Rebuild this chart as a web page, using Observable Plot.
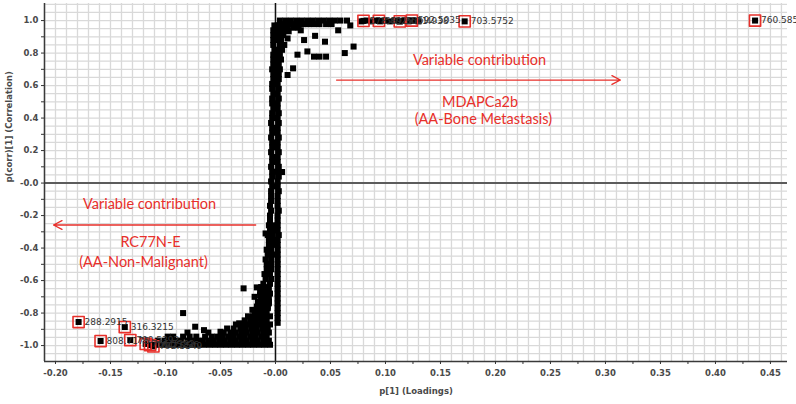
<!DOCTYPE html>
<html><head><meta charset="utf-8">
<script src="https://cdn.jsdelivr.net/npm/d3@7"></script>
<script src="https://cdn.jsdelivr.net/npm/@observablehq/plot@0.6"></script>
<style>
html,body{margin:0;padding:0;background:#fff;overflow:hidden}
</style></head><body><div id="chart"></div>
<script>
// ---- axis settings ----
const xDomain = [-0.21, 0.4655];
const yDomain = [-1.098, 1.105];
const xTicks = [-0.20,-0.15,-0.10,-0.05,0.00,0.05,0.10,0.15,0.20,0.25,0.30,0.35,0.40,0.45];
const xTickLabels = ["-0.20","-0.15","-0.10","-0.05","-0.00","0.05","0.10","0.15","0.20","0.25","0.30","0.35","0.40","0.45"];
const yTicks = [1.0,0.8,0.6,0.4,0.2,0.0,-0.2,-0.4,-0.6,-0.8,-1.0];
const yTickLabels = ["1.0","0.8","0.6","0.4","0.2","-0.0","-0.2","-0.4","-0.6","-0.8","-1.0"];

// ---- data: vertical stem near p[1] = 0 ----
const stemY = [0.97,0.94,0.91,0.88,0.85,0.82,0.79,0.76,0.73,0.70,
  0.67,0.64,0.61,0.58,0.55,0.52,0.49,0.46,0.43,0.40,
  0.37,0.34,0.31,0.28,0.25,0.22,0.19,0.16,0.13,0.10,
  0.07,0.04,0.01,-0.02,-0.05,-0.08,-0.11,-0.14,-0.17,-0.20,
  -0.23,-0.26,-0.29,-0.32,-0.35,-0.38,-0.41,-0.44,-0.47,-0.50,
  -0.53,-0.56,-0.59,-0.62,-0.65,-0.68,-0.71,-0.74,-0.77,-0.80,
  -0.83,-0.86];
const stemLeftX = [-0.001,-0.002,-0.002,-0.002,-0.002,-0.001,-0.002,-0.002,-0.002,-0.003,
  -0.002,-0.002,-0.003,-0.003,-0.002,-0.003,-0.003,-0.002,-0.003,-0.003,
  -0.004,-0.003,-0.003,-0.004,-0.003,-0.003,-0.004,-0.003,-0.003,-0.004,
  -0.003,-0.003,-0.004,-0.003,-0.004,-0.004,-0.004,-0.005,-0.004,-0.005,
  -0.005,-0.006,-0.005,-0.007,-0.006,-0.006,-0.008,-0.007,-0.009,-0.008,
  -0.008,-0.010,-0.009,-0.011,-0.012,-0.011,-0.013,-0.012,-0.014,-0.015,
  -0.016,-0.018];
const stemRightX = [0.004,0.006,0.007,0.005,0.008,0.006,0.004,0.005,0.003,0.004,
  0.003,0.003,0.002,0.003,0.002,0.003,0.002,0.002,0.003,0.002,
  0.003,0.002,0.002,0.003,0.002,0.002,0.003,0.002,0.002,0.003,
  0.002,0.003,0.002,0.002,0.003,0.002,0.002,0.002,0.003,0.002,
  0.002,0.002,0.002,0.003,0.002,0.002,0.002,0.002,0.002,0.002,
  0.002,0.002,0.002,0.002,0.002,0.002,0.002,0.002,0.002,0.002,
  0.002,0.002];
const stemMidY = [0.97,0.94,0.91,0.88,0.85,0.82,0.79,0.76,0.73,0.70,
  -0.26,-0.29,-0.32,-0.35,-0.38,-0.41,-0.44,-0.47,-0.50,-0.53,-0.56,
  -0.59,-0.62,-0.65,-0.68,-0.71,-0.74,-0.77,-0.80,-0.83,-0.86];
const stemMidX = [0.002,0.003,0.003,0.002,0.004,0.003,0.002,0.002,0.001,0.001,
  -0.002,-0.002,-0.003,-0.003,-0.003,-0.004,-0.003,-0.004,-0.004,-0.004,-0.005,
  -0.004,-0.005,-0.006,-0.005,-0.006,-0.006,-0.007,-0.008,-0.009,-0.010];

// ---- data: bottom band (p(corr) near -1) ----
const bottomRowY = [-0.995,-0.970,-0.945,-0.920,-0.895,-0.870,-0.845,-0.820,-0.790,-0.760,-0.730,-0.700,-0.670,-0.640];
const bottomRowX = [
  [-0.110,-0.105,-0.100,-0.095,-0.090,-0.085,-0.080,-0.075,-0.070,-0.065,-0.060,-0.055,-0.050,-0.045,-0.040,-0.035,-0.030,-0.025,-0.020,-0.015,-0.010,-0.005],
  [-0.107,-0.101,-0.096,-0.091,-0.086,-0.080,-0.076,-0.071,-0.066,-0.061,-0.056,-0.051,-0.046,-0.041,-0.036,-0.031,-0.026,-0.021,-0.016,-0.011,-0.006],
  [-0.098,-0.093,-0.084,-0.078,-0.072,-0.064,-0.058,-0.053,-0.048,-0.043,-0.038,-0.033,-0.028,-0.023,-0.018,-0.013,-0.008],
  [-0.080,-0.061,-0.047,-0.041,-0.036,-0.031,-0.026,-0.021,-0.016,-0.011,-0.006],
  [-0.044,-0.038,-0.032,-0.027,-0.022,-0.017,-0.012,-0.007],
  [-0.036,-0.030,-0.025,-0.020,-0.015,-0.010,-0.005],
  [-0.028,-0.023,-0.018,-0.013,-0.008],
  [-0.025,-0.020,-0.015,-0.010,-0.005],
  [-0.019,-0.014,-0.009],
  [-0.017,-0.012,-0.007],
  [-0.016,-0.011,-0.006],
  [-0.019,-0.013,-0.008],
  [-0.014,-0.009],
  [-0.013,-0.008]
];

// ---- data: top band (p(corr) near +1) ----
const topRowY = [1.000,0.978,0.956,0.934];
const topRowX = [
  [0.004,0.009,0.014,0.019,0.024,0.029,0.034,0.039,0.044,0.049,0.054,0.059],
  [0.005,0.010,0.015,0.020,0.025,0.030,0.035,0.040,0.046,0.051],
  [0.006,0.011,0.016,0.021],
  [0.007,0.012]
];
const topClusterX = [0.078,0.083,0.087,0.091,0.095,0.099,0.104,0.108,0.113,0.117,0.121,0.126,0.130];
const topClusterY = [0.995,1.000,0.995,1.000,0.995,1.000,0.995,1.000,0.995,1.000,0.995,1.000,0.995];

// ---- data: scattered variables ----
const topScatterX = [0.065,0.068,0.057,0.071,0.063,0.045,0.036,0.026,0.029,0.020,0.035,0.040,0.046,0.016,0.011,0.023,0.011,0.006];
const topScatterY = [1.000,0.970,0.940,0.840,0.800,0.870,0.906,0.880,0.810,0.790,0.778,0.778,0.778,0.706,0.665,0.940,0.890,0.068];
const bottomScatterX = [-0.084,-0.029,-0.017,-0.014,-0.021,-0.033,-0.050,-0.065,-0.073,-0.009];
const bottomScatterY = [-0.800,-0.648,-0.642,-0.690,-0.780,-0.863,-0.915,-0.905,-0.884,-0.310];

// ---- data: highlighted (labelled) variables ----
const hiX = [0.080,0.094,0.113,0.124,0.172,0.436,-0.179,-0.137,-0.159,-0.132,-0.118,-0.114,-0.111];
const hiY = [0.998,0.998,0.995,1.000,0.995,1.000,-0.855,-0.886,-0.972,-0.966,-0.990,-0.997,-1.005];
const hiLabel = ["578.4025","589.3611","605.4938","592.5035","703.5752","760.5851","288.2915","316.3215","808.7175","790.5392","766.5392","764.5236","792.5549"];

// ---- annotations ----
const noteText = ["Variable contribution","MDAPCa2b","(AA-Bone Metastasis)","Variable contribution","RC77N-E","(AA-Non-Malignant)"];
const noteX = [0.1855,0.186,0.189,-0.1145,-0.1136,-0.120];
const noteY = [0.757,0.497,0.394,-0.129,-0.364,-0.486];
const arrowFromX = [0.0555,-0.018];
const arrowToX = [0.3136,-0.2018];
const arrowY = [0.634,-0.258];

// ---- build tables ----
const pts = [];
const addPairs = (xs, ys) => xs.forEach((x, i) => pts.push({x, y: ys[i]}));
addPairs(stemLeftX, stemY);
addPairs(stemRightX, stemY);
addPairs(stemMidX, stemMidY);
bottomRowY.forEach((y, i) => bottomRowX[i].forEach(x => pts.push({x, y})));
topRowY.forEach((y, i) => topRowX[i].forEach(x => pts.push({x, y})));
addPairs(topClusterX, topClusterY);
addPairs(topScatterX, topScatterY);
addPairs(bottomScatterX, bottomScatterY);
const hi = hiX.map((x, i) => ({x, y: hiY[i], label: hiLabel[i]}));
addPairs(hiX, hiY);
const notes = noteText.map((t, i) => ({t, x: noteX[i], y: noteY[i]}));
const arrows = arrowY.map((y, i) => ({x1: arrowFromX[i], x2: arrowToX[i], y}));

const xGrid = d3.range(-0.21, 0.4655, 0.01).map(v => Math.round(v * 100) / 100);
const yGrid = d3.range(-1.05, 1.1001, 0.05).map(v => Math.round(v * 100) / 100);
const xMinor = d3.range(-0.2, 0.4501, 0.025);
const yMinor = d3.range(-1.0, 1.0001, 0.1);

const red = "#e8302b";
const tickFont = {fontFamily: "DejaVu Sans", fontSize: 8.5, fontWeight: "bold", fill: "#4a4a4a"};

const chart = Plot.plot({
  width: 796, height: 404,
  marginLeft: 44, marginRight: 9, marginTop: 3, marginBottom: 43,
  x: {domain: xDomain},
  y: {domain: yDomain},
  style: {background: "#fff", overflow: "visible"},
  marks: [
    Plot.ruleX(xGrid, {stroke: "#d9d9d9", strokeWidth: 1.3}),
    Plot.ruleY(yGrid, {stroke: "#d9d9d9", strokeWidth: 1.3}),
    Plot.ruleY([0], {stroke: "#5c5c5c", strokeWidth: 2}),
    Plot.ruleX([0], {stroke: "#111", strokeWidth: 1.5}),
    Plot.ruleX([xDomain[0]], {stroke: "#3a3a3a", strokeWidth: 1.5}),
    Plot.ruleY([yDomain[0]], {stroke: "#3a3a3a", strokeWidth: 1.5}),
    Plot.axisX({ticks: xMinor, tickSize: 3, tickFormat: () => "", label: null, stroke: "#333"}),
    Plot.axisY({ticks: yMinor, tickSize: 3, tickFormat: () => "", label: null, stroke: "#333"}),
    Plot.text(xTicks, {x: d => d, frameAnchor: "bottom", dy: 14, text: (d, i) => xTickLabels[i], ...tickFont}),
    Plot.text(yTicks, {y: d => d, frameAnchor: "left", dx: -6, textAnchor: "end", text: (d, i) => yTickLabels[i], ...tickFont}),
    Plot.text(["p[1] (Loadings)"], {frameAnchor: "bottom", dy: 32, ...tickFont}),
    Plot.text(["p(corr)[1] (Correlation)"], {frameAnchor: "left", dx: -35, rotate: -90, ...tickFont}),
    Plot.dot(pts, {x: "x", y: "y", symbol: "square", r: 3.4, fill: "#000", stroke: "none"}),
    Plot.dot(hi, {x: "x", y: "y", symbol: "square", r: 6.3, fill: "none", stroke: red, strokeWidth: 1.6, strokeLinejoin: "round"}),
    Plot.text(hi, {x: "x", y: "y", text: "label", dx: 6, textAnchor: "start", fontFamily: "DejaVu Sans", fontSize: 9, fill: "#333"}),
    Plot.text(notes, {x: "x", y: "y", text: "t", fill: red, fontFamily: "Lato", fontSize: 14.5}),
    Plot.arrow(arrows, {x1: "x1", y1: "y", x2: "x2", y2: "y", stroke: red, strokeWidth: 1.3, headLength: 11, headAngle: 55})
  ]
});
document.getElementById("chart").appendChild(chart);
</script>
</body></html>
